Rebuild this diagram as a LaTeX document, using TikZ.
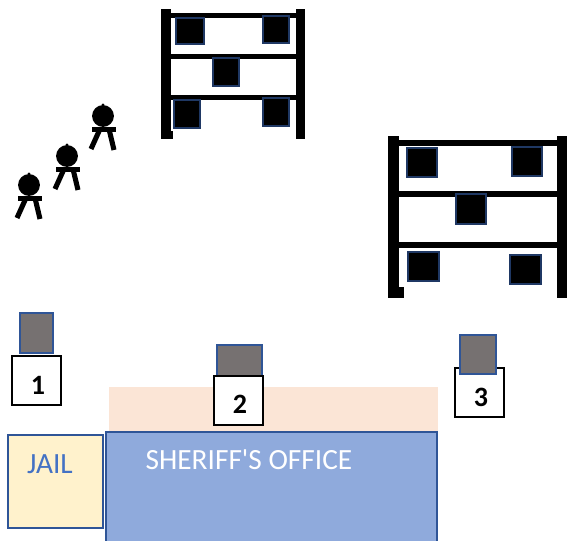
\documentclass[tikz,border=0pt]{standalone}
\usepackage{fontspec}
\setmainfont{Carlito}
\usetikzlibrary{positioning}
\definecolor{peach}{HTML}{FBE5D6}
\definecolor{officeblue}{HTML}{8FAADC}
\definecolor{jailyellow}{HTML}{FFF2CC}
\definecolor{edgeblue}{HTML}{2F5597}
\definecolor{textblue}{HTML}{4472C4}
\definecolor{towergray}{HTML}{767171}
\definecolor{bindark}{HTML}{1F3864}

\begin{document}
\begin{tikzpicture}[
  x=0.75pt, y=-0.75pt,
  post/.style    = {fill=black},
  bin/.style     = {draw=bindark, line width=1.3pt, fill=black},
  tower/.style   = {draw=edgeblue, line width=1.7pt, fill=towergray},
  numbox/.style  = {draw=black, line width=1.9pt, fill=white},
  numlbl/.style  = {font=\fontsize{21}{23}\selectfont\bfseries, inner sep=0pt},
  bldg/.style    = {draw=edgeblue, line width=1.7pt},
  bldglbl/.style = {font=\fontsize{22}{24}\selectfont, inner sep=0pt},
]
\clip (0,0) rectangle (568,541);

% =============== upper rack ===============
\fill[post] (161,9) rectangle (171,139);
\fill[post] (171,131) rectangle (173,139);
\fill[post] (296,9) rectangle (305,139);
\foreach \y in {13,54,95} {
  \fill[post] (171,\y) rectangle (296,\y+5.5);
}
\foreach \xa/\ya/\xb/\yb in {176/18/204/44, 263/16/289/43, 213/58/239/86, 174/100/200/128, 263/98/289/126} {
  \draw[bin] (\xa,\ya) rectangle (\xb,\yb);
}

% =============== lower rack ===============
\fill[post] (388,136) rectangle (399,298);
\fill[post] (399,287) rectangle (404,298);
\fill[post] (557,136) rectangle (567,298);
\foreach \y in {140,191,242} {
  \fill[post] (399,\y) rectangle (557,\y+6.5);
}
\foreach \xa/\ya/\xb/\yb in {407/148/437/177, 512/147/542/176, 456/194/486/224, 408/252/439/281, 510/255/541/284} {
  \draw[bin] (\xa,\ya) rectangle (\xb,\yb);
}

% =============== figures ===============
\foreach \fx/\fy in {103/116, 67/156, 29/185} {
  \begin{scope}[shift={(\fx,\fy)}]
    \fill[black] (0,0) circle[radius=8.2pt];
    \fill[black] (0,-11) circle[radius=1.2pt];
    \fill[black] (-11,11) rectangle (13,16);
    \draw[black, line width=3.8pt] (-3,13) -- (-12,33);
    \draw[black, line width=3.8pt] (6,13) -- (11,34);
  \end{scope}
}

% =============== buildings ===============
\fill[peach] (109,387) rectangle (438,432);
\draw[bldg, fill=officeblue] (106,432) rectangle (437,550);
\draw[bldg, fill=jailyellow] (8,435) rectangle (103,528);
\node[bldglbl, text=textblue] (jail) at (50,464) {JAIL};
\node[bldglbl, text=white] (office) at (249,460) {SHERIFF\textquotesingle S OFFICE};

% =============== numbered towers ===============
\draw[tower] (20,313) rectangle (53,353);
\draw[numbox] (12,356) rectangle (61,405);
\node[numlbl] (one) at (38,385) {1};

\draw[tower] (217,345) rectangle (262,377);
\draw[numbox] (214,376) rectangle (263,425);
\node[numlbl] (two) at (240,404) {2};

\draw[numbox] (455,368) rectangle (504,417);
\draw[tower] (460,335) rectangle (496,374);
\node[numlbl] (three) at (481,397) {3};

\end{tikzpicture}
\end{document}
